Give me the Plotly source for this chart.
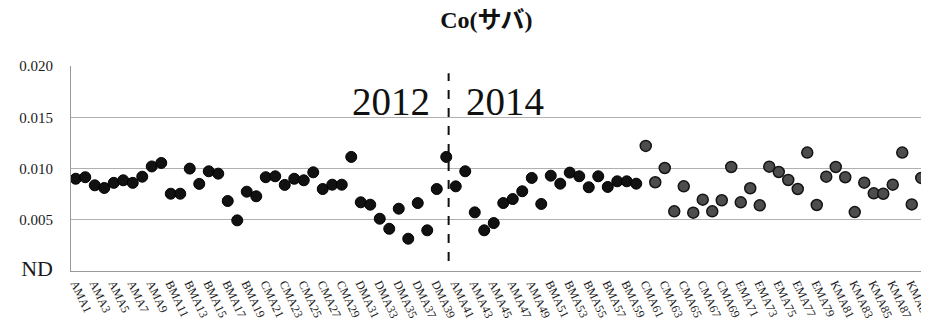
import plotly.graph_objects as go

prefixes = ["AMA"] * 10 + ["BMA"] * 10 + ["CMA"] * 10 + ["DMA"] * 10 + \
           ["AMA"] * 10 + ["BMA"] * 10 + ["CMA"] * 10 + ["EMA"] * 10 + ["KMA"] * 10
samples = [f"{p}{i + 1}" for i, p in enumerate(prefixes)]

values_2012_a = [0.0090, 0.00915, 0.00836, 0.0081, 0.0086, 0.00885, 0.0086, 0.0092, 0.0102, 0.01054,
                 0.00754, 0.00754, 0.00999, 0.0085, 0.00973, 0.0095, 0.00683, 0.00494, 0.00774, 0.00729,
                 0.00915, 0.00924, 0.0084, 0.0090, 0.00885, 0.00963, 0.0080, 0.00842, 0.00842, 0.01113,
                 0.0067, 0.00647, 0.0051, 0.00412, 0.00608, 0.00315, 0.00663, 0.00397, 0.0080, 0.01113]
values_2014_a = [0.00826, 0.00973, 0.00572, 0.00397, 0.00468, 0.00663, 0.00702, 0.00778, 0.00908, 0.00654,
                 0.0093, 0.00852, 0.0096, 0.00924, 0.00817, 0.00924, 0.0082, 0.00875, 0.00875, 0.00852]
values_2014_b = [0.0122, 0.00866, 0.01005, 0.00582, 0.00826, 0.00569, 0.00696, 0.00582, 0.0069, 0.01015,
                 0.0067, 0.00807, 0.00641, 0.01018, 0.00966, 0.00888, 0.0080, 0.01155, 0.00644, 0.0092,
                 0.01015, 0.00915, 0.00575, 0.00862, 0.00758, 0.00754, 0.00842, 0.01155, 0.0065, 0.00908]

n_black = len(values_2012_a) + len(values_2014_a)
tick_vals = samples[::2]
y_tick_vals = [0, 0.005, 0.010, 0.015, 0.020]
y_tick_text = ["<span style='font-size:22px'>ND</span>", "0.005", "0.010", "0.015", "0.020"]

serif = "Liberation Serif, Times New Roman, serif"

fig = go.Figure()
fig.add_trace(go.Scatter(
    x=samples[:n_black], y=values_2012_a + values_2014_a, mode="markers",
    marker=dict(size=11, color="#111111", line=dict(color="#000000", width=1)),
    showlegend=False))
fig.add_trace(go.Scatter(
    x=samples[n_black:], y=values_2014_b, mode="markers",
    marker=dict(size=11, color="#4d4d4d", line=dict(color="#141414", width=1.5)),
    showlegend=False))

fig.add_shape(type="line", xref="x", yref="y", x0=39.25, x1=39.25, y0=0.00097, y1=0.0193,
              line=dict(color="#111111", width=2, dash="dash"))
fig.add_annotation(x=33.2, y=0.01655, xref="x", yref="y", text="2012", showarrow=False,
                   font=dict(family=serif, size=39, color="#111111"))
fig.add_annotation(x=45.2, y=0.01655, xref="x", yref="y", text="2014", showarrow=False,
                   font=dict(family=serif, size=39, color="#111111"))

fig.update_layout(
    width=929, height=319,
    margin=dict(l=63, r=4, t=58, b=56),
    paper_bgcolor="white", plot_bgcolor="white",
    title=dict(text="<b>Co(サバ)</b>", x=0.515, xanchor="center", y=0.965, yanchor="middle",
               font=dict(family="Liberation Serif, Noto Sans CJK JP, serif", size=24, color="#111111")),
    xaxis=dict(type="category", categoryorder="array", categoryarray=samples,
               range=[-0.5, 89.5], tickmode="array", tickvals=tick_vals, ticktext=tick_vals,
               tickangle=65, tickfont=dict(family=serif, size=12, color="#1a1a1a"),
               showgrid=False, showline=True, linecolor="#999999", linewidth=1,
               ticks="", zeroline=False),
    yaxis=dict(range=[0, 0.020], tickmode="array", tickvals=y_tick_vals, ticktext=y_tick_text,
               tickfont=dict(family=serif, size=15, color="#1a1a1a"),
               showgrid=True, gridcolor="#b0b0b0", gridwidth=1,
               showline=True, linecolor="#999999", linewidth=1, ticks="", zeroline=False,
               ticklabelstandoff=14),
)

fig.write_html("out.html")
